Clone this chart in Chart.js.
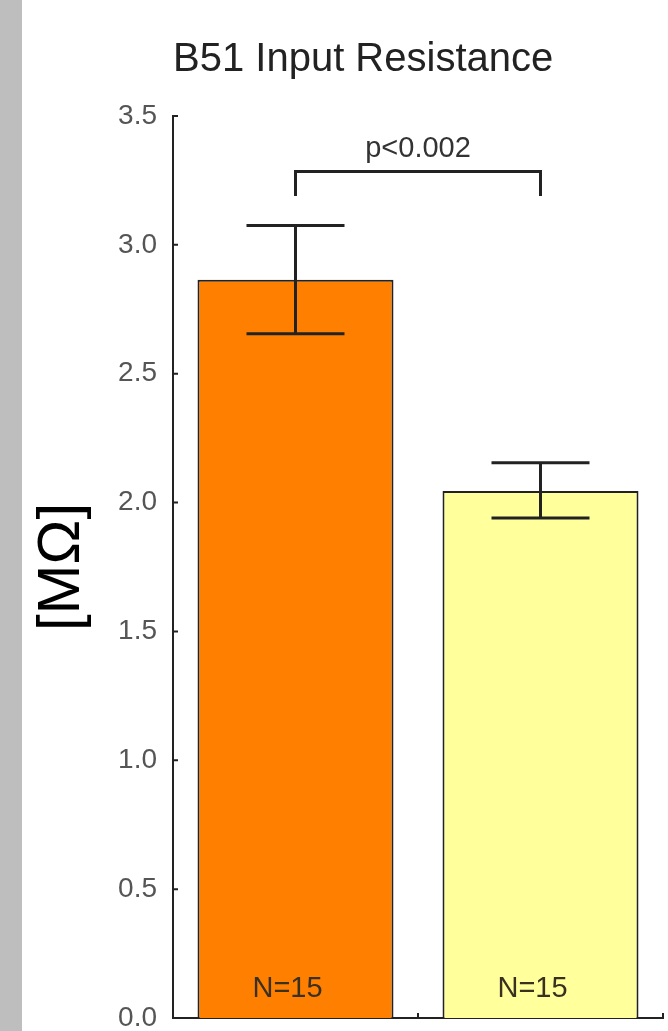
<!DOCTYPE html>
<html>
<head>
<meta charset="utf-8">
<script src="https://cdn.jsdelivr.net/npm/chart.js@4.4.1/dist/chart.umd.min.js"></script>
<style>
  html, body { margin: 0; padding: 0; background: #fff; }
  #wrap { position: relative; width: 668px; height: 1031px; }
  #strip { position: absolute; left: 0; top: 0; width: 22px; height: 1031px; background: #bebebe; }
  #chart-box { position: absolute; left: 22px; top: 0; width: 646px; height: 1031px; }
</style>
</head>
<body>
<div id="wrap">
  <div id="strip"></div>
  <div id="chart-box"><canvas id="chart"></canvas></div>
</div>
<script>
(function () {
  // ---------- DATA ----------
  const categories = ['Control', 'Treated'];
  const means = [2.865, 2.045];
  const errHigh = [3.075, 2.155];
  const errLow = [2.655, 1.94];
  const nLabels = ['N=15', 'N=15'];
  const barColors = ['#ff8000', '#ffff9c'];
  const yTicks = [0, 0.5, 1.0, 1.5, 2.0, 2.5, 3.0, 3.5];
  const sigText = 'p<0.002';
  const sigTop = 3.285;
  const sigFoot = 3.19;

  const INK = '#222';
  const FONT = "'Liberation Sans', Arial, sans-serif";

  // error bars, N labels, significance bracket and inward tick marks
  const extras = {
    id: 'extras',
    afterDatasetsDraw(chart) {
      const ctx = chart.ctx;
      const xs = chart.scales.x;
      const ys = chart.scales.y;
      const meta = chart.getDatasetMeta(0);
      ctx.save();
      ctx.strokeStyle = INK;
      ctx.lineWidth = 3;
      ctx.lineCap = 'butt';

      meta.data.forEach((bar, i) => {
        const x = bar.x;
        const capW = bar.width * 0.25;
        const yHi = ys.getPixelForValue(errHigh[i]);
        const yLo = ys.getPixelForValue(errLow[i]);
        ctx.beginPath();
        ctx.moveTo(x, yHi); ctx.lineTo(x, yLo);
        ctx.moveTo(x - capW, yHi); ctx.lineTo(x + capW, yHi);
        ctx.moveTo(x - capW, yLo); ctx.lineTo(x + capW, yLo);
        ctx.stroke();

        ctx.fillStyle = '#3a3020';
        ctx.font = '29px ' + FONT;
        ctx.textAlign = 'center';
        ctx.textBaseline = 'middle';
        ctx.fillText(nLabels[i], x - 8, ys.getPixelForValue(0) - 29);
      });

      // significance bracket
      const x1 = meta.data[0].x;
      const x2 = meta.data[1].x;
      const yT = ys.getPixelForValue(sigTop);
      const yF = ys.getPixelForValue(sigFoot);
      ctx.beginPath();
      ctx.moveTo(x1, yF); ctx.lineTo(x1, yT); ctx.lineTo(x2, yT); ctx.lineTo(x2, yF);
      ctx.stroke();
      ctx.fillStyle = '#333';
      ctx.font = '29px ' + FONT;
      ctx.textAlign = 'center';
      ctx.textBaseline = 'alphabetic';
      ctx.fillText(sigText, (x1 + x2) / 2, yT - 14);

      // small inward tick marks
      ctx.lineWidth = 2;
      ctx.beginPath();
      yTicks.forEach(v => {
        const y = ys.getPixelForValue(v);
        ctx.moveTo(xs.left, y); ctx.lineTo(xs.left + 5, y);
      });
      for (let i = 1; i <= categories.length; i++) {
        const x = i < categories.length
          ? (meta.data[i - 1].x + meta.data[i].x) / 2
          : xs.right;
        ctx.moveTo(x, ys.bottom); ctx.lineTo(x, ys.bottom - 5);
      }
      ctx.stroke();
      ctx.restore();
    }
  };

  new Chart(document.getElementById('chart'), {
    type: 'bar',
    data: {
      labels: categories,
      datasets: [{
        data: means,
        backgroundColor: barColors,
        borderColor: INK,
        borderWidth: 2,
        barPercentage: 0.8,
        categoryPercentage: 1.0
      }]
    },
    options: {
      responsive: true,
      maintainAspectRatio: false,
      animation: false,
      layout: { padding: { left: 0, right: 5, top: 0, bottom: 13 } },
      plugins: {
        legend: { display: false },
        tooltip: { enabled: false },
        title: {
          display: true,
          text: 'B51 Input Resistance',
          color: INK,
          align: 'start',
          fullSize: false,
          font: { family: FONT, size: 40, weight: 'normal' },
          padding: { top: 36, bottom: 32 }
        }
      },
      scales: {
        x: {
          grid: { display: false },
          border: { color: INK, width: 2 },
          ticks: { display: false },
          afterFit(scale) { scale.height = 0; }
        },
        y: {
          min: 0,
          max: 3.5,
          afterBuildTicks(scale) {
            scale.ticks = yTicks.map(v => ({ value: v }));
          },
          afterFit(scale) {
            scale.width = 151;
            scale.paddingTop = 0;
            scale.paddingBottom = 0;
          },
          grid: { display: false },
          border: { color: INK, width: 2 },
          ticks: {
            color: '#555',
            padding: 8,
            font: { family: FONT, size: 28 },
            callback: v => Number(v).toFixed(1)
          },
          title: {
            display: true,
            text: '[MΩ]',
            color: '#000',
            font: { family: FONT, size: 60 },
            padding: { top: 4, bottom: 0 }
          }
        }
      }
    },
    plugins: [extras]
  });
})();
</script>
</body>
</html>
